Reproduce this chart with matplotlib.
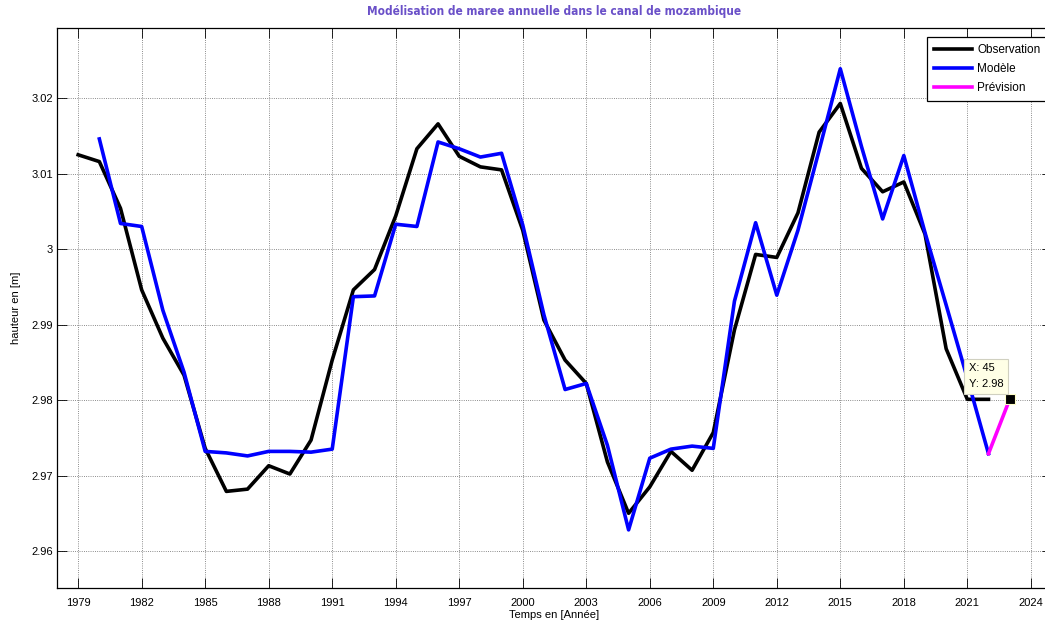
import matplotlib
matplotlib.use("Agg")
import matplotlib.pyplot as plt
import numpy as np

# observed annual mean sea level (1979-2022)
years_obs = np.arange(1979, 2023)
obs = [3.0125, 3.0116, 3.0054, 2.9946, 2.9882, 2.9833, 2.9736, 2.9679, 2.9682,
       2.9713, 2.9702, 2.9747, 2.9853, 2.9946, 2.9973, 3.0044, 3.0133, 3.0166,
       3.0123, 3.0109, 3.0105, 3.0025, 2.9906, 2.9853, 2.9822, 2.9718, 2.9650,
       2.9685, 2.9732, 2.9707, 2.9757, 2.9893, 2.9993, 2.9989, 3.0048, 3.0155,
       3.0193, 3.0107, 3.0076, 3.0089, 3.0020, 2.9868, 2.9801, 2.9801]

# model (1980-2022)
years_mod = np.arange(1980, 2023)
mod = [3.0146, 3.0034, 3.0030, 2.9919, 2.9837, 2.9732, 2.9730, 2.9726, 2.9732,
       2.9732, 2.9731, 2.9735, 2.9937, 2.9938, 3.0033, 3.0030, 3.0142, 3.0133,
       3.0122, 3.0127, 3.0032, 2.9913, 2.9814, 2.9822, 2.9740, 2.9628, 2.9723,
       2.9735, 2.9739, 2.9736, 2.9931, 3.0035, 2.9939, 3.0025, 3.0131, 3.0239,
       3.0136, 3.0040, 3.0124, 3.0022, 2.9926, 2.9829, 2.9729]

# forecast
years_prev = [2022, 2023]
prev = [2.9729, 2.9801]

xticks = list(range(1979, 2025, 3))
yticks = [2.96, 2.97, 2.98, 2.99, 3.0, 3.01, 3.02]
ytick_labels = ["2.96", "2.97", "2.98", "2.99", "3", "3.01", "3.02"]

plt.rcParams["font.family"] = ["Liberation Sans", "DejaVu Sans"]

W, H = 1045, 627
fig = plt.figure(figsize=(W / 100, H / 100), dpi=100)
ax = fig.add_axes([57 / W, 39 / H, 995 / W, 560 / H])

ax.plot(years_obs, obs, color="k", lw=2.6, label="Observation", zorder=3)
ax.plot(years_mod, mod, color="#0000FF", lw=2.6, label="Modèle", zorder=4)
ax.plot(years_prev, prev, color="#FF00FF", lw=2.6, label="Prévision", zorder=5)

# data tip at last forecast point
ax.plot(years_prev[-1], prev[-1], marker="s", ms=6.5, color="k",
        mec="#FFFFC8", mew=0.8, zorder=6)
ax.annotate("X: 45\nY: 2.98", xy=(years_prev[-1], prev[-1]),
            xytext=(-41, 10), textcoords="offset pixels",
            ha="left", va="bottom", fontsize=8, linespacing=1.75, zorder=7,
            bbox=dict(boxstyle="square,pad=0.4", fc="#FFFFE6", ec="#D0D0C0", lw=0.8))

ax.set_xlim(1978, 2025)
ax.set_ylim(2.9551, 3.0293)
ax.set_xticks(xticks)
ax.set_yticks(yticks)
ax.set_yticklabels(ytick_labels)
ax.tick_params(direction="in", length=7, width=0.6, labelsize=8,
               top=True, right=True)
ax.tick_params(axis="x", pad=7)
ax.tick_params(axis="y", pad=3)
ax.grid(True, linestyle=":", color="#666666", lw=0.6)
for sp in ax.spines.values():
    sp.set_linewidth(0.9)

ax.set_xlabel("Temps en [Année]", fontsize=8)
ax.set_ylabel("hauteur en [m]", fontsize=8)
ax.xaxis.set_label_coords(0.5, -0.040)
ax.yaxis.set_label_coords(-0.036, 0.5)

ax.set_title("Modélisation de maree annuelle dans le canal de mozambique",
             family="DejaVu Sans", stretch="condensed", fontweight="bold",
             fontsize=8.5, color="#6A50C8", pad=9)

leg = ax.legend(loc="upper left", bbox_to_anchor=(927 / W, 1 - 36.7 / H),
                bbox_transform=fig.transFigure, fontsize=8.5, fancybox=False,
                edgecolor="k", framealpha=1, borderpad=0.6, labelspacing=0.6,
                handlelength=3.2, handletextpad=0.45, borderaxespad=0)
leg.get_frame().set_linewidth(0.9)

fig.savefig("out.png", dpi=100)
